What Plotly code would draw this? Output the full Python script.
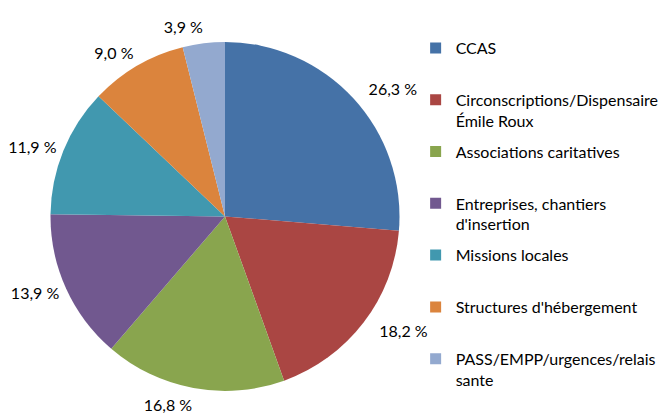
import plotly.graph_objects as go

categories = [
    "CCAS",
    "Circonscriptions/Dispensaire<br>Émile Roux",
    "Associations caritatives",
    "Entreprises, chantiers<br>d'insertion",
    "Missions locales",
    "Structures d'hébergement",
    "PASS/EMPP/urgences/relais<br>sante",
]
values = [26.3, 18.2, 16.8, 13.9, 11.9, 9.0, 3.9]
colors = ["#4572A7", "#AA4643", "#89A54E", "#71588F", "#4198AF", "#DB843D", "#93A9CF"]

texts = [f"{v:.1f}".replace(".", ",") + " %" for v in values]

FONT = "Lato"

fig = go.Figure()

# invisible, slightly larger pie that carries the outside percentage labels
fig.add_trace(go.Pie(
    labels=categories,
    values=values,
    text=texts,
    textinfo="text",
    textposition="outside",
    sort=False,
    direction="clockwise",
    rotation=0,
    marker=dict(colors=["rgba(0,0,0,0)"] * len(values), line=dict(width=0)),
    textfont=dict(family=FONT, size=16, color="#000000"),
    domain=dict(x=[0.0409, 0.6209], y=[0.0569, 0.9361]),
    hoverinfo="skip",
    showlegend=False,
))

# the visible pie
fig.add_trace(go.Pie(
    labels=categories,
    values=values,
    text=texts,
    textinfo="none",
    sort=False,
    direction="clockwise",
    rotation=0,
    marker=dict(colors=colors, line=dict(width=0)),
    domain=dict(x=[0.0434, 0.6034], y=[0.075, 0.918]),
    hoverinfo="label+text",
    showlegend=False,
))

# legend entries (one per category, same colours as the slices)
for i, (cat, col) in enumerate(zip(categories, colors)):
    name = cat if "<br>" in cat else cat + "<br>&nbsp;"
    fig.add_trace(go.Scatter(
        x=[None], y=[None], mode="markers",
        marker=dict(symbol="square", size=11, color=col),
        name=name, legendgroup=f"g{i}", showlegend=True,
        hoverinfo="skip",
    ))

fig.update_layout(
    width=671, height=414,
    margin=dict(l=0, r=0, t=0, b=0, autoexpand=False),
    paper_bgcolor="white",
    plot_bgcolor="white",
    showlegend=True,
    xaxis=dict(visible=False),
    yaxis=dict(visible=False),
    legend=dict(
        x=0.6075, y=0.9445, xanchor="left", yanchor="top",
        font=dict(family=FONT, size=16, color="#000000"),
        valign="top",
        tracegroupgap=7.2,
        itemclick=False,
        bgcolor="rgba(0,0,0,0)",
    ),
)

fig.write_html("out.html")
